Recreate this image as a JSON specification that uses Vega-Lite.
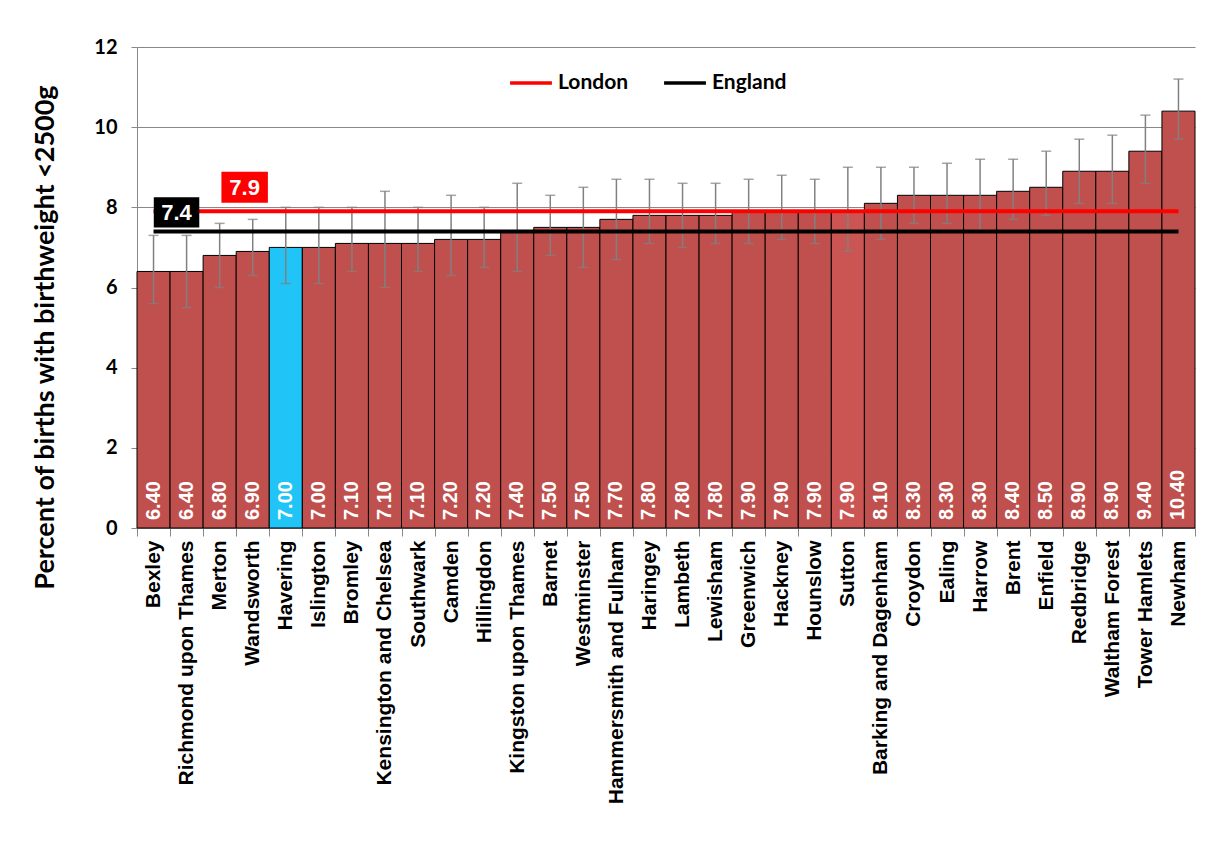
{
  "$schema": "https://vega.github.io/schema/vega-lite/v6.json",
  "width": 1058,
  "height": 481,
  "autosize": {"type": "none"},
  "padding": {"left": 137, "top": 47, "right": 13, "bottom": 319},
  "background": "white",
  "config": {
    "font": "Lato",
    "view": {"stroke": null}
  },
  "datasets": {
    "boroughs": [
      {"area": "Bexley", "value": 6.4, "lo": 5.6, "hi": 7.3},
      {"area": "Richmond upon Thames", "value": 6.4, "lo": 5.5, "hi": 7.3},
      {"area": "Merton", "value": 6.8, "lo": 6.0, "hi": 7.6},
      {"area": "Wandsworth", "value": 6.9, "lo": 6.3, "hi": 7.7},
      {"area": "Havering", "value": 7.0, "lo": 6.1, "hi": 8.0},
      {"area": "Islington", "value": 7.0, "lo": 6.1, "hi": 8.0},
      {"area": "Bromley", "value": 7.1, "lo": 6.4, "hi": 8.0},
      {"area": "Kensington and Chelsea", "value": 7.1, "lo": 6.0, "hi": 8.4},
      {"area": "Southwark", "value": 7.1, "lo": 6.4, "hi": 8.0},
      {"area": "Camden", "value": 7.2, "lo": 6.3, "hi": 8.3},
      {"area": "Hillingdon", "value": 7.2, "lo": 6.5, "hi": 8.0},
      {"area": "Kingston upon Thames", "value": 7.4, "lo": 6.4, "hi": 8.6},
      {"area": "Barnet", "value": 7.5, "lo": 6.8, "hi": 8.3},
      {"area": "Westminster", "value": 7.5, "lo": 6.5, "hi": 8.5},
      {"area": "Hammersmith and Fulham", "value": 7.7, "lo": 6.7, "hi": 8.7},
      {"area": "Haringey", "value": 7.8, "lo": 7.1, "hi": 8.7},
      {"area": "Lambeth", "value": 7.8, "lo": 7.0, "hi": 8.6},
      {"area": "Lewisham", "value": 7.8, "lo": 7.1, "hi": 8.6},
      {"area": "Greenwich", "value": 7.9, "lo": 7.1, "hi": 8.7},
      {"area": "Hackney", "value": 7.9, "lo": 7.2, "hi": 8.8},
      {"area": "Hounslow", "value": 7.9, "lo": 7.1, "hi": 8.7},
      {"area": "Sutton", "value": 7.9, "lo": 6.9, "hi": 9.0},
      {"area": "Barking and Dagenham", "value": 8.1, "lo": 7.2, "hi": 9.0},
      {"area": "Croydon", "value": 8.3, "lo": 7.6, "hi": 9.0},
      {"area": "Ealing", "value": 8.3, "lo": 7.6, "hi": 9.1},
      {"area": "Harrow", "value": 8.3, "lo": 7.4, "hi": 9.2},
      {"area": "Brent", "value": 8.4, "lo": 7.7, "hi": 9.2},
      {"area": "Enfield", "value": 8.5, "lo": 7.8, "hi": 9.4},
      {"area": "Redbridge", "value": 8.9, "lo": 8.1, "hi": 9.7},
      {"area": "Waltham Forest", "value": 8.9, "lo": 8.1, "hi": 9.8},
      {"area": "Tower Hamlets", "value": 9.4, "lo": 8.6, "hi": 10.3},
      {"area": "Newham", "value": 10.4, "lo": 9.7, "hi": 11.2}
    ],
    "refs": [
      {"series": "London", "value": 7.9, "label": "7.9"},
      {"series": "England", "value": 7.4, "label": "7.4"}
    ]
  },
  "layer": [
    {
      "data": {"name": "boroughs"},
      "mark": {"type": "bar", "stroke": "#000000", "strokeWidth": 1},
      "encoding": {
        "x": {
          "field": "area", "type": "nominal", "sort": null, "title": null,
          "scale": {"paddingInner": 0, "paddingOuter": 0},
          "axis": {
            "labelAngle": -90, "labelFont": "Liberation Sans", "labelFontSize": 21,
            "labelFontWeight": "bold", "labelColor": "#000000", "labelPadding": 4,
            "tickBand": "extent", "tickSize": 8, "tickColor": "#888888",
            "domainColor": "#888888", "labelLimit": 400
          }
        },
        "y": {
          "field": "value", "type": "quantitative",
          "scale": {"domain": [0, 12], "nice": false},
          "axis": {
            "values": [0, 2, 4, 6, 8, 10, 12], "grid": true, "gridColor": "#888888",
            "gridWidth": 1, "domainColor": "#888888", "tickColor": "#888888",
            "tickSize": 6, "labelPadding": 14, "labelFont": "Lato", "labelFontSize": 20,
            "labelFontWeight": "bold", "labelColor": "#000000",
            "title": "Percent of births with birthweight <2500g",
            "titleFont": "Lato", "titleFontSize": 27, "titleFontWeight": "bold",
            "titleColor": "#000000", "titlePadding": 34, "titleY": 290
          }
        },
        "fill": {
          "condition": [
            {"test": "datum.area === 'Havering'", "value": "#21C4F7"},
            {"test": "datum.area === 'Sutton'", "value": "#CB5552"}
          ],
          "value": "#C0504D"
        }
      }
    },
    {
      "data": {"name": "boroughs"},
      "mark": {"type": "rule", "color": "#808080", "strokeWidth": 1.5},
      "encoding": {
        "x": {"field": "area", "type": "nominal", "sort": null},
        "y": {"field": "lo", "type": "quantitative"},
        "y2": {"field": "hi"}
      }
    },
    {
      "data": {"name": "boroughs"},
      "mark": {"type": "tick", "color": "#808080", "thickness": 1.5, "size": 10},
      "encoding": {
        "x": {"field": "area", "type": "nominal", "sort": null},
        "y": {"field": "hi", "type": "quantitative"}
      }
    },
    {
      "data": {"name": "boroughs"},
      "mark": {"type": "tick", "color": "#808080", "thickness": 1.5, "size": 10},
      "encoding": {
        "x": {"field": "area", "type": "nominal", "sort": null},
        "y": {"field": "lo", "type": "quantitative"}
      }
    },
    {
      "data": {"name": "refs"},
      "mark": {"type": "rule", "strokeWidth": 4},
      "encoding": {
        "x": {"datum": "Bexley"},
        "x2": {"datum": "Newham"},
        "y": {"field": "value", "type": "quantitative"},
        "color": {
          "field": "series", "type": "nominal",
          "scale": {"domain": ["London", "England"], "range": ["#FF0000", "#000000"]},
          "legend": {
            "title": null, "orient": "none", "legendX": 371, "legendY": 13,
            "direction": "horizontal", "symbolType": "stroke", "symbolSize": 1750,
            "symbolStrokeWidth": 3.5, "labelFont": "Lato", "labelFontSize": 21,
            "labelFontWeight": "bold", "labelColor": "#000000", "labelOffset": 4,
            "columnPadding": 28, "padding": 0
          }
        }
      }
    },
    {
      "data": {"name": "refs"},
      "transform": [{"filter": "datum.series === 'England'"}],
      "layer": [
        {
          "mark": {"type": "point", "shape": "M-1.5,-1H1.5V1H-1.5Z", "size": 920, "filled": true, "fill": "#000000", "opacity": 1, "strokeWidth": 0, "xOffset": 23, "yOffset": -19},
          "encoding": {"x": {"datum": "Bexley"}, "y": {"field": "value", "type": "quantitative"}}
        },
        {
          "mark": {"type": "text", "font": "Liberation Sans", "color": "#FFFFFF", "fontSize": 22, "fontWeight": "bold", "align": "center", "baseline": "middle", "xOffset": 23, "yOffset": -18},
          "encoding": {"x": {"datum": "Bexley"}, "y": {"field": "value", "type": "quantitative"}, "text": {"field": "label"}}
        }
      ]
    },
    {
      "data": {"name": "refs"},
      "transform": [{"filter": "datum.series === 'London'"}],
      "layer": [
        {
          "mark": {"type": "point", "shape": "M-1.5,-1H1.5V1H-1.5Z", "size": 960, "filled": true, "fill": "#FF0000", "opacity": 1, "strokeWidth": 0, "xOffset": 25, "yOffset": -24},
          "encoding": {"x": {"datum": "Merton"}, "y": {"field": "value", "type": "quantitative"}}
        },
        {
          "mark": {"type": "text", "font": "Liberation Sans", "color": "#FFFFFF", "fontSize": 22, "fontWeight": "bold", "align": "center", "baseline": "middle", "xOffset": 25, "yOffset": -23},
          "encoding": {"x": {"datum": "Merton"}, "y": {"field": "value", "type": "quantitative"}, "text": {"field": "label"}}
        }
      ]
    },
    {
      "data": {"name": "boroughs"},
      "mark": {"type": "text", "font": "Liberation Sans", "color": "#FFFFFF", "fontSize": 20, "fontWeight": "bold", "angle": 270, "align": "left", "baseline": "middle", "dx": 8},
      "encoding": {
        "x": {"field": "area", "type": "nominal", "sort": null},
        "y": {"datum": 0},
        "text": {"field": "value", "type": "quantitative", "format": ".2f"}
      }
    }
  ]
}
